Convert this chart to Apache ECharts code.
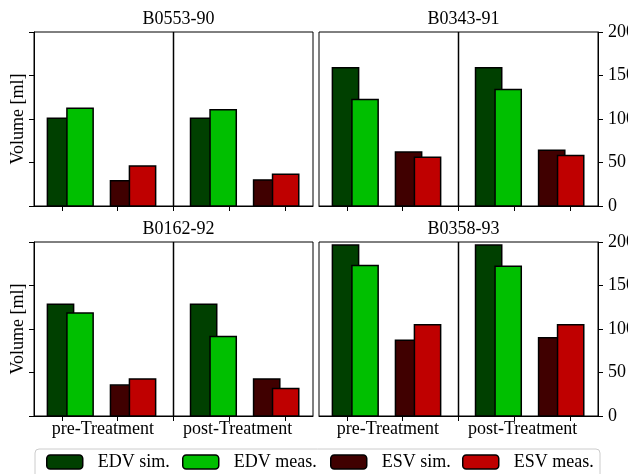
<!DOCTYPE html>
<html>
<head>
<meta charset="utf-8">
<script src="https://cdn.jsdelivr.net/npm/echarts@6/dist/echarts.min.js"></script>
<style>
html,body{margin:0;padding:0;background:#fff;}
#chart{width:628px;height:474px;}
</style>
</head>
<body>
<div id="chart"></div>
<script>
// ---------------- data ----------------
const panelTitles = ['B0553-90', 'B0343-91', 'B0162-92', 'B0358-93'];
const categories = ['pre-Treatment', 'post-Treatment'];
const seriesNames = ['EDV sim.', 'EDV meas.', 'ESV sim.', 'ESV meas.'];
const yTicks = [0, 50, 100, 150, 200];
// each entry: [pre-Treatment, post-Treatment], one per panel
const edvSim  = [[101, 101], [159, 159], [128.5, 128.5], [196.5, 196.5]];
const edvMeas = [[112.5, 110.5], [122.5, 134], [118.5, 91.5], [173, 172]];
const esvSim  = [[29, 30], [62, 64], [35.5, 42.5], [87, 90]];
const esvMeas = [[46, 36.5], [56, 58], [42.5, 31.5], [105, 105]];

// ---------------- layout / style ----------------
const seriesValues = [edvSim, edvMeas, esvSim, esvMeas];
const colors = ['#004000', '#00bf00', '#400000', '#bf0000'];
const GROUP_BASE = [-0.025, 2.54];
const SERIES_OFFSET = [0, 0.35, 1.13, 1.47];
const BAR_W = 0.47;
const SEPARATOR_X = 2;
const LABEL_POS = [0.735, 3.15];
const FONT = '"Liberation Serif", "DejaVu Serif", serif';
const FS = 18;
const grids = [
  {left: 34, top: 32}, {left: 319, top: 32},
  {left: 34, top: 242}, {left: 319, top: 242}
].map(g => ({left: g.left, top: g.top, width: 279, height: 174, show: true,
  outerBoundsMode: 'none', containLabel: false,
  borderColor: '#000', borderWidth: 1, backgroundColor: 'transparent'}));

const xAxis = [], yAxis = [], title = [], series = [];
grids.forEach((g, i) => {
  xAxis.push({
    type: 'value', gridIndex: i, min: -0.5, max: 4.5,
    axisLine: {show: true, onZero: false, lineStyle: {color: '#000', width: 1}},
    axisTick: {show: true, customValues: [0, 1, 2, 3, 4], length: 5, lineStyle: {color: '#000', width: 1}},
    axisLabel: {show: i >= 2, customValues: LABEL_POS, margin: 4,
      formatter: v => (v < SEPARATOR_X ? categories[0] : categories[1]),
      fontSize: FS, fontFamily: FONT, color: '#000'},
    splitLine: {show: false}
  });
  const right = i % 2 === 1;
  yAxis.push({
    type: 'value', gridIndex: i, min: yTicks[0], max: yTicks[yTicks.length - 1], interval: 50,
    position: right ? 'right' : 'left',
    name: right ? '' : 'Volume [ml]', nameLocation: 'middle', nameGap: 7,
    nameTextStyle: {fontSize: FS, fontFamily: FONT, color: '#000'},
    axisLine: {show: true, onZero: false, lineStyle: {color: '#000', width: 1}},
    axisTick: {show: true, length: 5, lineStyle: {color: '#000', width: 1}},
    axisLabel: {show: right, margin: 10, fontSize: FS, fontFamily: FONT, color: '#000'},
    splitLine: {show: false}
  });
  title.push({
    text: panelTitles[i], left: g.left + g.width / 2, textAlign: 'center',
    top: g.top - 27,
    textStyle: {fontSize: FS, fontWeight: 'normal', fontFamily: FONT, color: '#000'}
  });
  seriesNames.forEach((name, s) => {
    series.push({
      type: 'custom', name: name, xAxisIndex: i, yAxisIndex: i,
      itemStyle: {color: colors[s]},
      encode: {x: 0, y: 1},
      data: categories.map((c, gi) => [GROUP_BASE[gi] + SERIES_OFFSET[s], seriesValues[s][i][gi]]),
      renderItem: function (params, api) {
        const x = api.value(0), y = api.value(1);
        const p1 = api.coord([x - BAR_W / 2, y]);
        const p0 = api.coord([x + BAR_W / 2, 0]);
        return {
          type: 'rect',
          shape: {x: p1[0], y: p1[1], width: p0[0] - p1[0], height: p0[1] - p1[1]},
          style: {fill: api.visual('color'), stroke: '#000', lineWidth: 1.5}
        };
      }
    });
  });
  series.push({
    type: 'line', xAxisIndex: i, yAxisIndex: i, symbol: 'none', silent: true,
    lineStyle: {color: '#000', width: 1.5}, z: 5,
    data: [[SEPARATOR_X, yTicks[0]], [SEPARATOR_X, yTicks[yTicks.length - 1]]]
  });
});

const legendLefts = [41, 177, 325, 457];
const legend = seriesNames.map((n, k) => ({
  data: [n], left: legendLefts[k], top: 448, orient: 'horizontal',
  itemWidth: 36, itemHeight: 14, z: 10,
  itemStyle: {borderColor: '#000', borderWidth: 1.5},
  textStyle: {fontSize: FS, fontFamily: FONT, color: '#000', padding: [0, 0, 0, 10]}
}));

const chart = echarts.init(document.getElementById('chart'), null, {renderer: 'canvas'});
chart.setOption({
  animation: false,
  backgroundColor: '#fff',
  grid: grids, xAxis: xAxis, yAxis: yAxis, title: title, legend: legend, series: series,
  graphic: [{
    type: 'rect', z: 0, silent: true,
    shape: {x: 35, y: 449, width: 565, height: 40, r: 4},
    style: {fill: '#fff', stroke: '#cccccc', lineWidth: 1}
  }]
});
</script>
</body>
</html>
